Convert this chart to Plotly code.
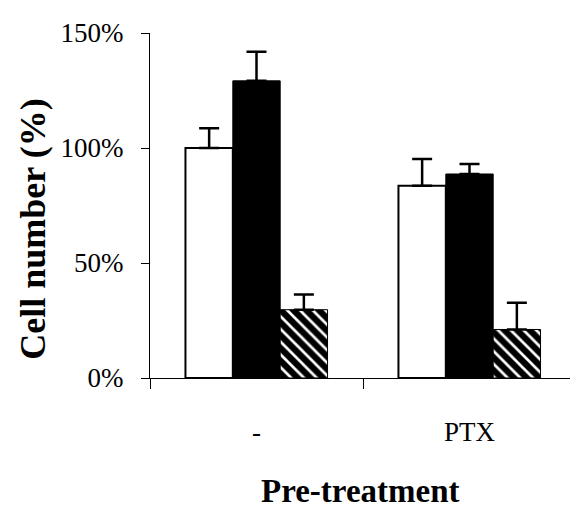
import plotly.graph_objects as go

categories = ["-", "PTX"]
white_vals = [100, 83.6]
white_err = [8.6, 11.6]
black_vals = [129.2, 88.7]
black_err = [12.7, 4.3]
hatch_vals = [29.7, 21.1]
hatch_err = [6.6, 11.6]
y_ticks = [0, 50, 100, 150]
y_tick_labels = ["0%", "50%", "100%", "150%"]

SERIF = "Liberation Serif, Times New Roman, serif"

fig = go.Figure()

def err(arr):
    return dict(type="data", symmetric=False, array=arr, arrayminus=[0] * len(arr),
                color="black", thickness=2.5, width=10)

fig.add_trace(go.Bar(x=categories, y=white_vals, name="white",
                     marker=dict(color="white", line=dict(color="black", width=2)),
                     error_y=err(white_err)))
fig.add_trace(go.Bar(x=categories, y=black_vals, name="black",
                     marker=dict(color="black", line=dict(color="black", width=1)),
                     error_y=err(black_err)))
fig.add_trace(go.Bar(x=categories, y=hatch_vals, name="hatched",
                     marker=dict(color="black", line=dict(color="black", width=1),
                                 pattern=dict(shape="\\", fgcolor="white", bgcolor="black",
                                              size=9, solidity=0.3, fillmode="replace")),
                     error_y=err(hatch_err)))

fig.update_layout(
    width=570, height=500,
    margin=dict(l=142, r=2, t=25, b=130),
    paper_bgcolor="white", plot_bgcolor="white",
    barmode="group", bargap=0.333, bargroupgap=0,
    showlegend=False,
    font=dict(family=SERIF, color="black"),
    xaxis=dict(type="category", showline=True, linecolor="black", linewidth=1,
               ticks="outside", tickson="boundaries", ticklen=10, tickcolor="black",
               tickfont=dict(size=27, family=SERIF), showgrid=False, zeroline=False,
               ticklabelstandoff=30, automargin=False),
    yaxis=dict(range=[0, 150], tickvals=y_ticks, ticktext=y_tick_labels,
               showline=True, linecolor="black", linewidth=1,
               ticks="outside", ticklen=8, tickcolor="black",
               tickfont=dict(size=27, family=SERIF), showgrid=False, zeroline=False,
               ticklabelstandoff=12, automargin=False),
    annotations=[
        dict(text="<b>Cell number (%)</b>", xref="paper", yref="paper",
             x=-0.2746, y=0.43, xanchor="center", yanchor="middle", textangle=-90,
             showarrow=False, font=dict(size=36, family=SERIF)),
        dict(text="<b>Pre-treatment</b>", xref="paper", yref="paper",
             x=0.493, y=-0.328, xanchor="center", yanchor="middle",
             showarrow=False, font=dict(size=33, family=SERIF)),
    ],
)

fig.write_html("out.html")
